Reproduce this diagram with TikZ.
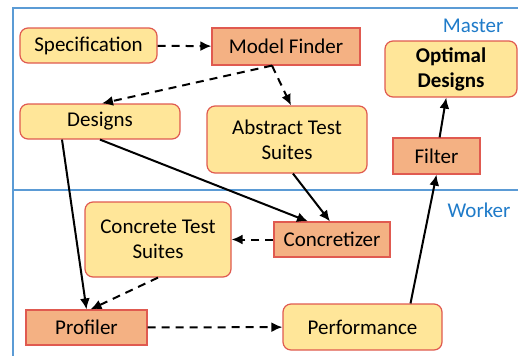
\documentclass[tikz,border=0pt]{standalone}
\usepackage{fontspec}
\setmainfont{Carlito}
\usetikzlibrary{arrows.meta}
\definecolor{boxyellow}{HTML}{FFE699}
\definecolor{boxorange}{HTML}{F4B183}
\definecolor{boxred}{HTML}{E05A50}
\definecolor{frameblue}{HTML}{5B9BD5}
\definecolor{labelblue}{HTML}{1F7BC9}
\begin{document}
\begin{tikzpicture}[x=1pt,y=-1pt,>={Latex[length=11pt,width=10pt]},
    font=\fontsize{21}{25}\selectfont,
    data/.style={draw=boxred,line width=1.2pt,fill=boxyellow,rounded corners=8pt,align=center,inner sep=0pt},
    proc/.style={draw=boxred,line width=1.2pt,fill=boxorange,align=center,inner sep=0pt},
    flow/.style={->,line width=2pt},
    dflow/.style={->,line width=2pt,dash pattern=on 8pt off 6pt}]
  \useasboundingbox (0,0) rectangle (518,356);
  % master / worker frame
  \draw [frameblue,line width=2.5pt] (518,8) -- (13,8) -- (13,356);
  \draw [frameblue,line width=2.5pt] (13,190) -- (518,190);
  \node [labelblue,anchor=east] (master) at (507,26) {Master};
  \node [labelblue,anchor=east] (worker) at (514,210) {Worker};
  % master side
  \node [data,minimum width=137pt,minimum height=35pt] (spec) at (88.5,45.5) {Specification};
  \node [proc,minimum width=148pt,minimum height=37pt] (finder) at (286,46.5) {Model Finder};
  \node [data,minimum width=160pt,minimum height=35pt] (designs) at (100,121.5) {Designs};
  \node [data,minimum width=160pt,minimum height=67pt] (abstract) at (287,139.5) {Abstract Test\\Suites};
  \node [data,minimum width=132pt,minimum height=56pt,font=\fontsize{21}{25}\selectfont\bfseries] (optimal) at (451,69) {Optimal\\Designs};
  \node [proc,minimum width=87pt,minimum height=36pt] (filter) at (436.5,156) {Filter};
  % worker side
  \node [data,minimum width=146pt,minimum height=75pt] (concrete) at (158,239.5) {Concrete Test\\Suites};
  \node [proc,minimum width=116pt,minimum height=35pt] (concretizer) at (332,239.5) {Concretizer};
  \node [proc,minimum width=121pt,minimum height=35pt] (profiler) at (86.5,327.5) {Profiler};
  \node [data,minimum width=159pt,minimum height=46pt] (perf) at (362.5,327) {Performance};
  % connectors
  \draw [dflow] (spec) -- (finder);
  \draw [dflow] ([xshift=-14pt]finder.south) -- ([xshift=2pt]designs.north);
  \draw [dflow] ([xshift=-14pt]finder.south) -- ([xshift=4pt]abstract.north);
  \draw [flow] ([xshift=-38pt]designs.south) -- (profiler.north);
  \draw [flow] (designs.south) -- ([xshift=-24pt]concretizer.north);
  \draw [flow] ([xshift=6pt]abstract.south) -- ([xshift=-2pt]concretizer.north);
  \draw [dflow] (concretizer) -- (concrete);
  \draw [dflow] (concrete.south) -- ([xshift=4pt]profiler.north);
  \draw [dflow] (profiler) -- (perf);
  \draw [flow] ([xshift=48pt]perf.north) -- (filter.south);
  \draw [flow] (filter) -- (optimal);
\end{tikzpicture}
\end{document}
